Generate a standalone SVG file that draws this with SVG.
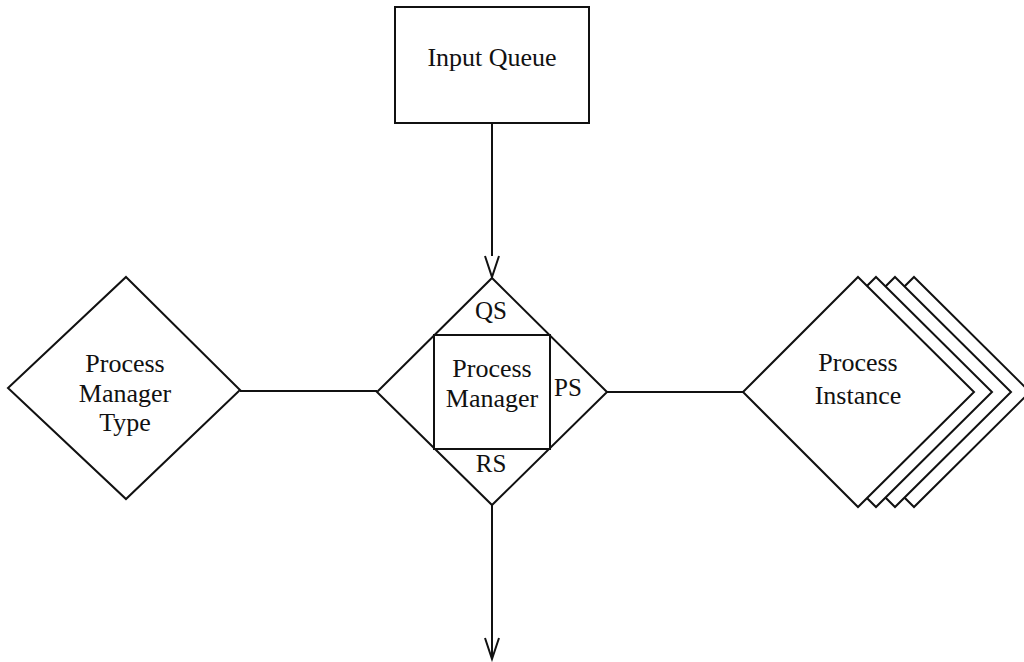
<svg xmlns="http://www.w3.org/2000/svg" width="1024" height="662" viewBox="0 0 1024 662">
  <style>
    .shape { fill: #fff; stroke: #111; stroke-width: 2; }
    .edge { fill: none; stroke: #111; stroke-width: 2; }
    .label { font-family: "Liberation Serif", "Times New Roman", serif; font-size: 26px; fill: #111; text-anchor: middle; }
    .port { font-size: 25px; }
  </style>
  <defs>
    <marker id="openArrow" markerWidth="20" markerHeight="26" refX="8" refY="23" orient="auto-start-reverse" markerUnits="userSpaceOnUse" viewBox="0 0 16 26">
      <path d="M1,1 L8,23 L15,1" fill="none" stroke="#111" stroke-width="2"/>
    </marker>
  </defs>
  <rect width="1024" height="662" fill="#fff"/>

  <!-- connectors -->
  <g id="connectors">
    <line class="edge" x1="492" y1="123" x2="492" y2="256"/>
    <path class="edge" d="M485,256 L492,277 L499,256"/>
    <line class="edge" x1="492" y1="505" x2="492" y2="658"/>
    <path class="edge" d="M485,638 L492,659 L499,638"/>
    <line class="edge" x1="240" y1="391" x2="377" y2="391"/>
    <line class="edge" x1="607" y1="392" x2="743" y2="392"/>
  </g>

  <!-- queue feeding the manager -->
  <g id="input-queue">
    <rect class="shape" x="395" y="7" width="194" height="116"/>
    <text class="label" x="492" y="66">Input Queue</text>
  </g>

  <!-- type definition -->
  <g id="process-manager-type">
    <polygon class="shape" points="126,277 240,390 126,499 8,388"/>
    <text class="label" x="125" y="372">Process</text>
    <text class="label" x="125" y="402">Manager</text>
    <text class="label" x="125" y="431">Type</text>
  </g>

  <!-- manager with its three ports -->
  <g id="process-manager">
    <polygon class="shape" points="492,278 607,392 492,505 377,392"/>
    <rect class="shape" x="434" y="335" width="116" height="114"/>
    <text class="label port" x="491" y="319">QS</text>
    <text class="label" x="492" y="377">Process</text>
    <text class="label" x="492" y="407">Manager</text>
    <text class="label port" x="568" y="396">PS</text>
    <text class="label port" x="491" y="472">RS</text>
  </g>

  <!-- stacked instances, back to front -->
  <g id="process-instance">
    <polygon class="shape" points="914,277 1030,392 914,507 798,392"/>
    <polygon class="shape" points="895,277 1011,392 895,507 779,392"/>
    <polygon class="shape" points="876,277 992,392 876,507 760,392"/>
    <polygon class="shape" points="858,277 974,392 858,507 743,392"/>
    <text class="label" x="858" y="371">Process</text>
    <text class="label" x="858" y="404">Instance</text>
  </g>
</svg>
